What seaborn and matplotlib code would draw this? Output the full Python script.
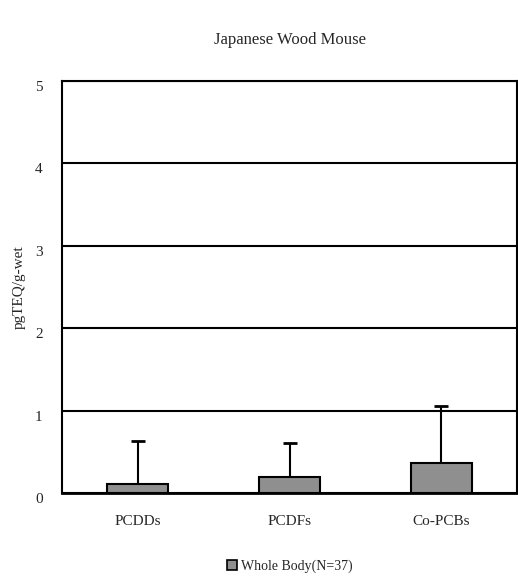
import matplotlib
matplotlib.use("Agg")
import matplotlib.pyplot as plt
import seaborn as sns
import pandas as pd
from matplotlib.patches import Patch

categories = ["PCDDs", "PCDFs", "Co-PCBs"]
means = [0.115, 0.19, 0.37]
errors = [0.515, 0.42, 0.69]
yticks = [0, 1, 2, 3, 4, 5]
series_name = "Whole Body(N=37)"

sns.set_theme(style="white")
plt.rcParams['font.family'] = ['Liberation Serif', 'DejaVu Serif']

df = pd.DataFrame({"cat": categories, "val": means})

fig = plt.figure(figsize=(5.18, 5.78), dpi=100)
ax = fig.add_axes([62/518, 1 - 493/578, 455/518, 412/578])

sns.barplot(data=df, x="cat", y="val", ax=ax, color="#8f8f8f",
            edgecolor="black", linewidth=1.5, width=0.4, saturation=1, zorder=3)
eb = ax.errorbar(range(len(categories)), means, yerr=[[0]*len(errors), errors],
                 fmt="none", ecolor="black", elinewidth=1.5, capsize=4.8, capthick=2, zorder=4)
caplines = eb[1]
if len(caplines) == 2:
    caplines[0].set_visible(False)

ax.set_ylim(0, 5)
ax.set_xlim(-0.5, 2.5)
ax.set_yticks(yticks)
ax.set_yticklabels([str(t) for t in yticks], fontsize=11)
ax.tick_params(axis='y', length=0, pad=14)
ax.tick_params(axis='x', length=0, pad=16, labelsize=11)
for lab in ax.get_yticklabels():
    lab.set_verticalalignment('top')
ax.yaxis.grid(True, color="black", linewidth=1.5, zorder=0)
ax.set_axisbelow(True)
for s in ax.spines.values():
    s.set_color("black")
    s.set_linewidth(1.5)
ax.spines['bottom'].set_linewidth(2)
ax.set_xlabel("")
ax.set_ylabel("pgTEQ/g-wet", fontsize=11, labelpad=6.5)

fig.text(290/518, 1 - 40/578, "Japanese Wood Mouse", ha="center", va="center", fontsize=12)

handle = Patch(facecolor="#8f8f8f", edgecolor="black", linewidth=1.2)
fig.legend([handle], [series_name], loc="center", bbox_to_anchor=(290/518, 1 - 566/578),
           frameon=False, fontsize=10, handlelength=0.7, handleheight=0.7, handletextpad=0.3)

fig.savefig("out.png", dpi=100)
